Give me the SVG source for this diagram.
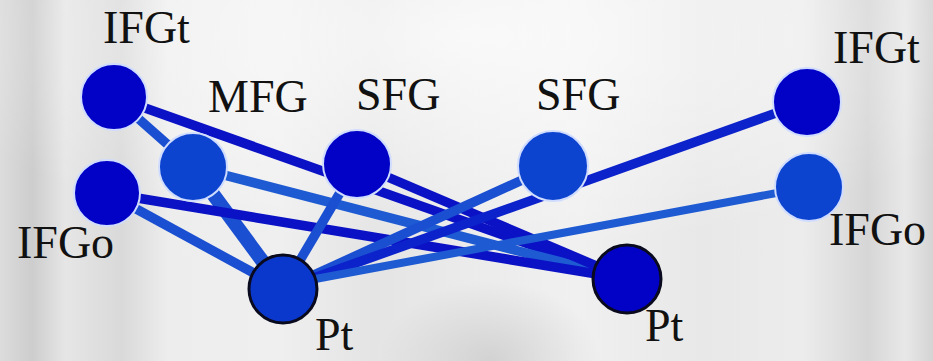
<svg xmlns="http://www.w3.org/2000/svg" width="933" height="361" viewBox="0 0 933 361">
<defs>
<linearGradient id="bgx" x1="0" y1="0" x2="1" y2="0">
<stop offset="0" stop-color="#dcdcdc"/>
<stop offset="0.035" stop-color="#cdcdcd"/>
<stop offset="0.07" stop-color="#e6e6e6"/>
<stop offset="0.13" stop-color="#d9d9d9"/>
<stop offset="0.18" stop-color="#ededed"/>
<stop offset="0.3" stop-color="#efefef"/>
<stop offset="0.4" stop-color="#e4e4e4"/>
<stop offset="0.5" stop-color="#ebebeb"/>
<stop offset="0.62" stop-color="#f0f0f0"/>
<stop offset="0.75" stop-color="#e8e8e8"/>
<stop offset="0.86" stop-color="#ececec"/>
<stop offset="0.93" stop-color="#d6d6d6"/>
<stop offset="0.97" stop-color="#e8e8e8"/>
<stop offset="1" stop-color="#d4d4d4"/>
</linearGradient>
<radialGradient id="glow" cx="0.5" cy="0.1" r="0.6">
<stop offset="0" stop-color="#ffffff" stop-opacity="0.7"/>
<stop offset="1" stop-color="#ffffff" stop-opacity="0"/>
</radialGradient>
<radialGradient id="dark" cx="0.5" cy="1" r="0.5">
<stop offset="0" stop-color="#b8b8b8" stop-opacity="0.5"/>
<stop offset="1" stop-color="#b8b8b8" stop-opacity="0"/>
</radialGradient>
</defs>
<style>
.lbl{font-family:"Liberation Serif","Times New Roman",serif;font-size:46px;fill:#111111}
.e{stroke-linecap:butt;fill:none;stroke-width:9.5}
.dk{stroke:#0b12c6}
.md{stroke:#1a4fd2}
.lt{stroke:#1e5bd3}
.n{stroke:#cfdcff;stroke-width:2}
.nd{fill:#0202c6}
.nm{fill:#0d44cf}
.pt{stroke:#0a0a1e;stroke-width:3}
</style>
<rect width="933" height="361" fill="url(#bgx)"/>
<rect width="933" height="361" fill="url(#glow)"/>
<rect x="380" y="200" width="220" height="161" fill="url(#dark)"/>
<g id="connectors">
<line class="e md" x1="114" y1="97" x2="193" y2="167"/>
<line class="e dk" x1="114" y1="97" x2="627" y2="279"/>
<line class="e lt" x1="193" y1="167" x2="627" y2="279"/>
<line class="e md" style="stroke-width:14" x1="193" y1="167" x2="283" y2="289"/>
<line class="e md" x1="107" y1="193" x2="283" y2="289"/>
<line class="e dk" x1="107" y1="193" x2="627" y2="279"/>
<line class="e md" x1="357" y1="164" x2="283" y2="289"/>
<line class="e dk" x1="357" y1="164" x2="627" y2="279"/>
<line class="e md" x1="283" y1="289" x2="553" y2="166"/>
<line class="e dk" style="stroke:#0c22cb" x1="283" y1="289" x2="807" y2="102"/>
<line class="e lt" style="stroke-width:8" x1="283" y1="285" x2="809" y2="187"/>
</g>
<g id="node-ifgt-l"><circle class="n nd" cx="114" cy="97" r="33"/><text class="lbl" x="103" y="43">IFGt</text></g>
<g id="node-mfg"><circle class="n nm" cx="193" cy="167" r="34"/><text class="lbl" x="208" y="112">MFG</text></g>
<g id="node-ifgo-l"><circle class="n nd" cx="107" cy="193" r="33"/><text class="lbl" x="17" y="258">IFGo</text></g>
<g id="node-sfg-l"><circle class="n nd" cx="357" cy="164" r="34"/><text class="lbl" x="356" y="110">SFG</text></g>
<g id="node-pt-l"><circle class="pt" fill="#0a38cc" cx="283" cy="289" r="34"/><text class="lbl" x="315" y="350">Pt</text></g>
<g id="node-sfg-r"><circle class="n nm" cx="553" cy="166" r="35"/><text class="lbl" x="536" y="110">SFG</text></g>
<g id="node-ifgt-r"><circle class="n nd" cx="807" cy="102" r="34"/><text class="lbl" x="833" y="63">IFGt</text></g>
<g id="node-ifgo-r"><circle class="n nm" cx="809" cy="187" r="34"/><text class="lbl" x="829" y="245">IFGo</text></g>
<g id="node-pt-r"><circle class="pt" fill="#0202c6" cx="627" cy="279" r="34"/><text class="lbl" x="645" y="341">Pt</text></g>
</svg>
